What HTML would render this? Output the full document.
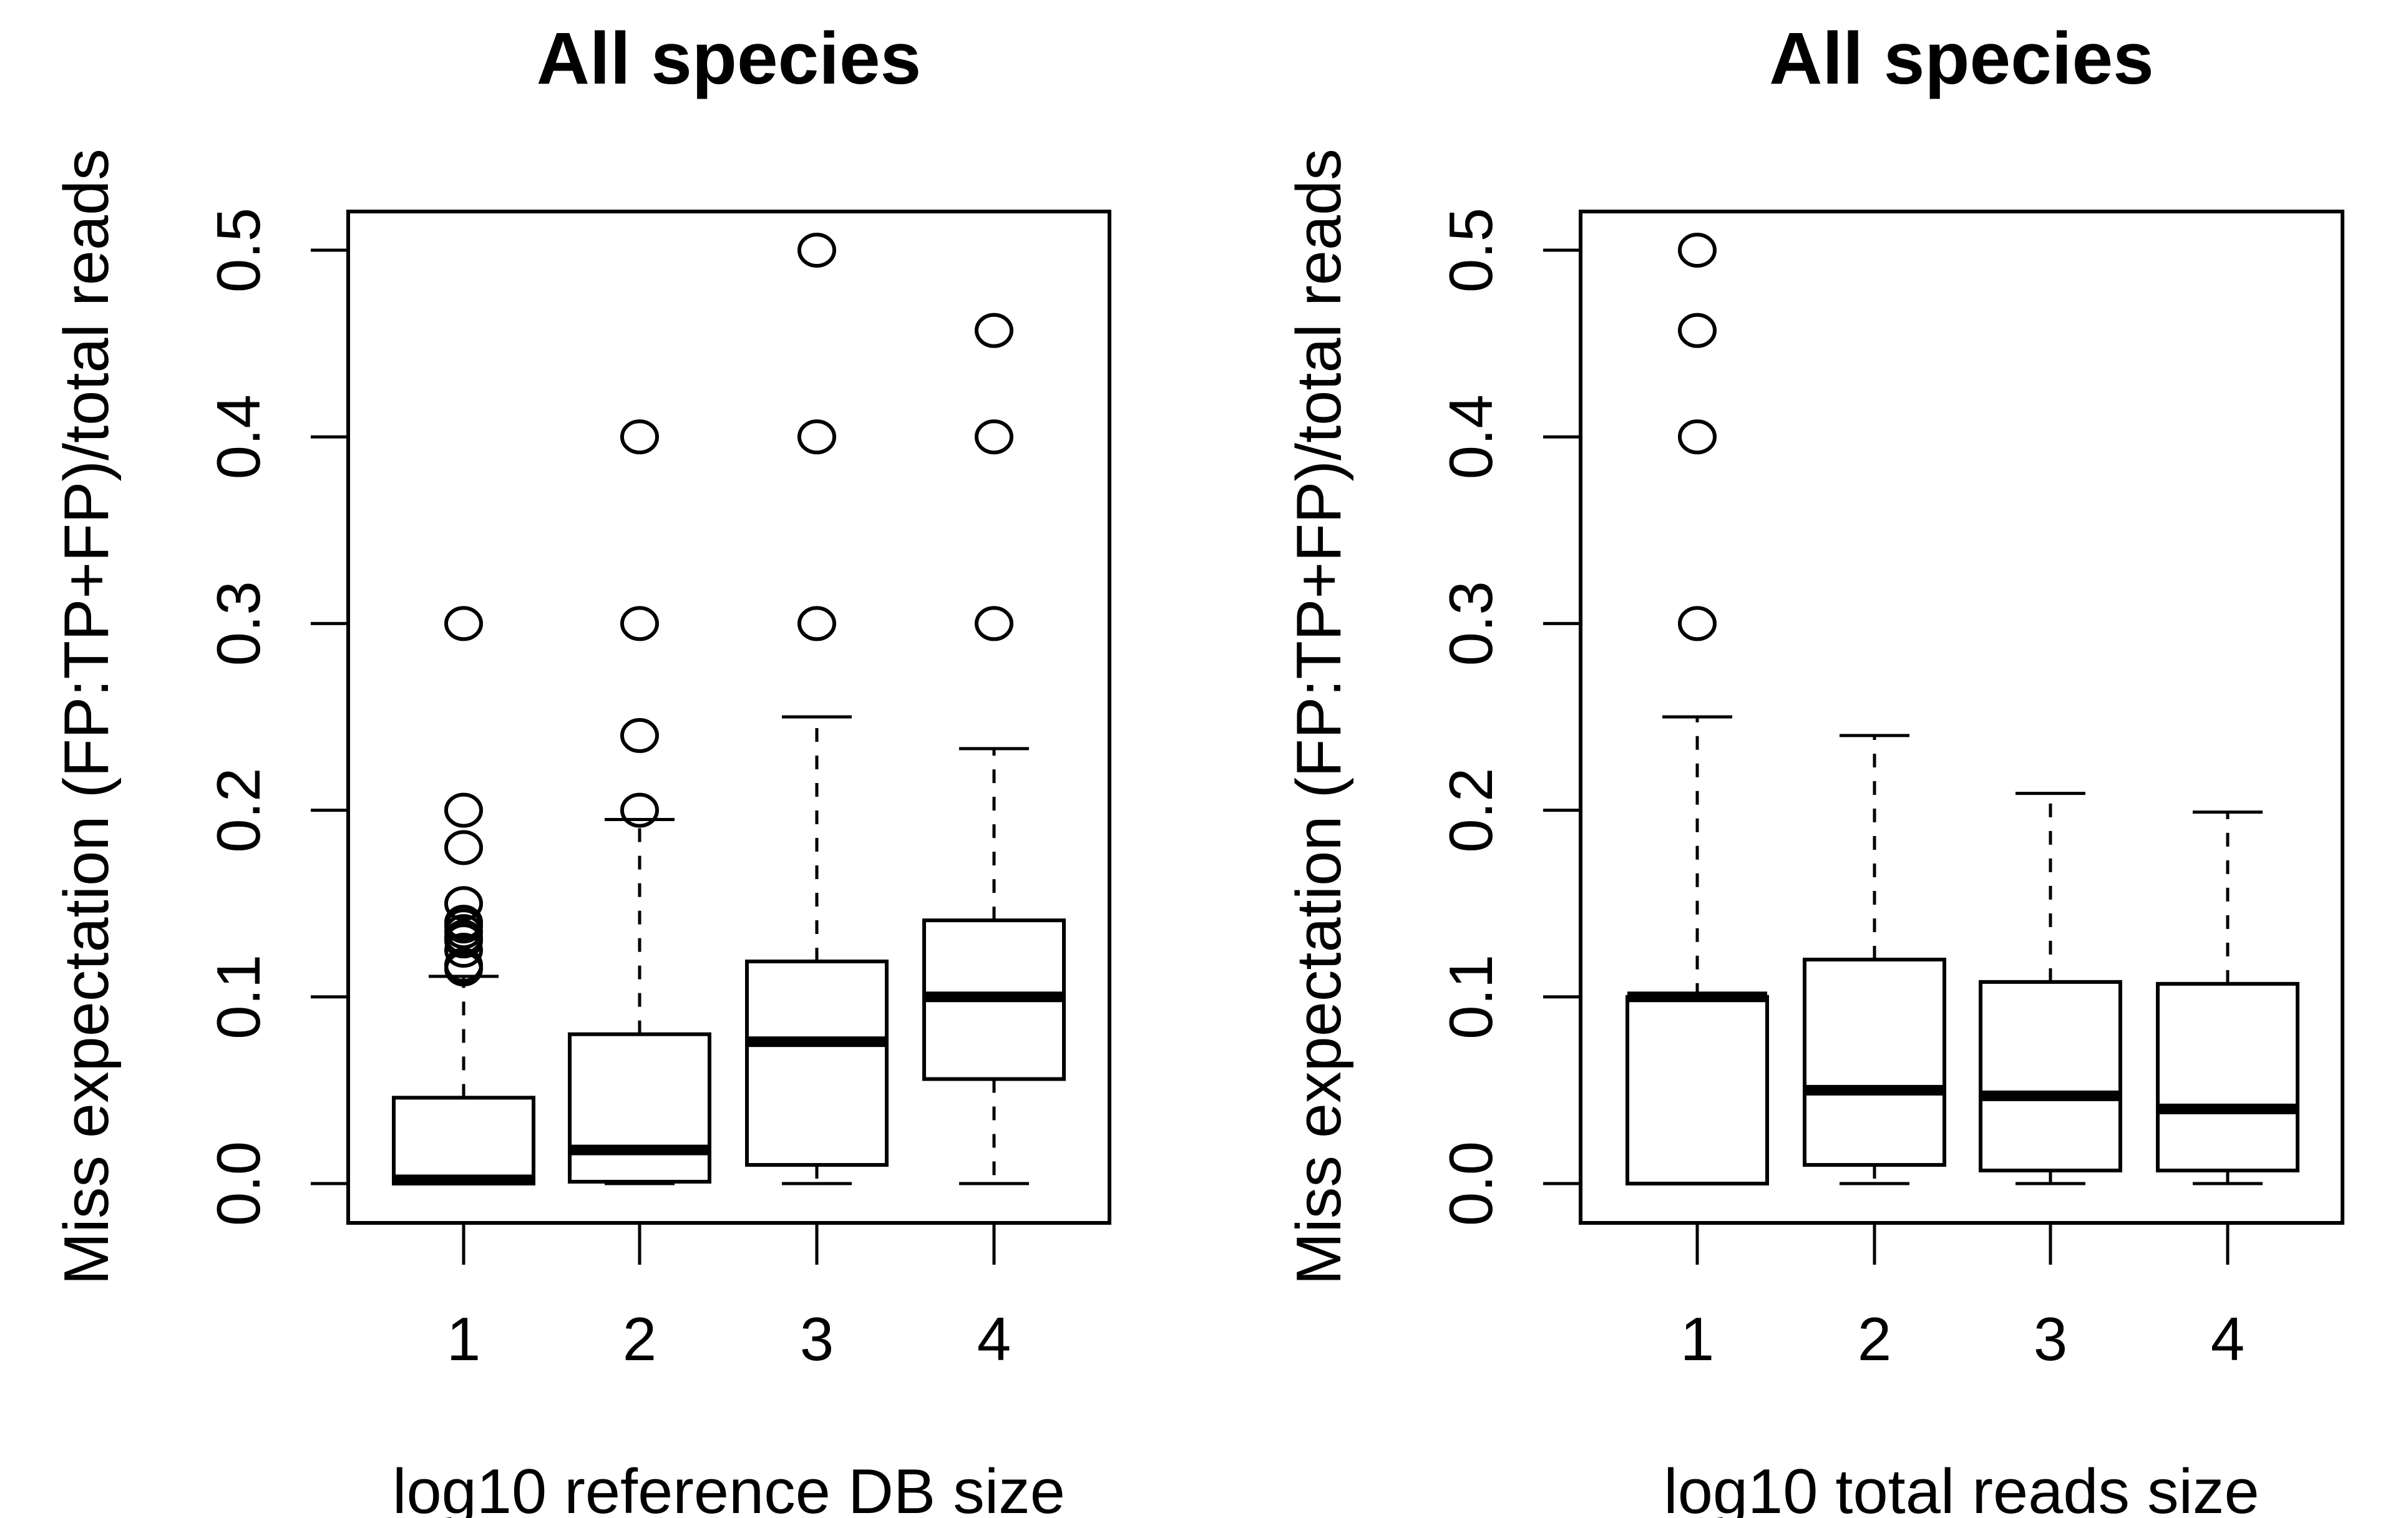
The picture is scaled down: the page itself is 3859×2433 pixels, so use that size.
<!DOCTYPE html>
<html><head><meta charset="utf-8"><style>
html,body{margin:0;padding:0;background:#fff}
svg{display:block;font-family:"Liberation Sans",Arial,sans-serif}
</style></head><body>
<svg id="chart" width="3859" height="2433" viewBox="0 0 3859 2433" xmlns="http://www.w3.org/2000/svg"></svg>
<script>
const categories = ["1","2","3","4"];
const yTicks = [0, 0.1, 0.2, 0.3, 0.4, 0.5];
const yTickLabels = ["0.0","0.1","0.2","0.3","0.4","0.5"];
// [lowWhisker, q1, median, q3, highWhisker]
const leftStats = [
  [0, 0, 0.002, 0.046, 0.111],
  [0, 0.001, 0.018, 0.080, 0.195],
  [0, 0.010, 0.076, 0.119, 0.250],
  [0, 0.056, 0.100, 0.141, 0.233]
];
const leftOutliers = [
  [0.3,0.2,0.18,0.15,0.14,0.138,0.135,0.132,0.13,0.125,0.117,0.115],
  [0.4,0.3,0.24,0.2],
  [0.5,0.4,0.3],
  [0.457,0.4,0.3]
];
const rightStats = [
  [0, 0, 0.100, 0.100, 0.250],
  [0, 0.010, 0.050, 0.120, 0.240],
  [0, 0.007, 0.047, 0.108, 0.209],
  [0, 0.007, 0.040, 0.107, 0.199]
];
const rightOutliers = [
  [0.5,0.457,0.4,0.3],
  [],[],[]
];

const svgRoot = document.getElementById('chart');
const NS = 'http://www.w3.org/2000/svg';
function mk(tag, attrs, parent){
  const e = document.createElementNS(NS, tag);
  for (const k in attrs) e.setAttribute(k, attrs[k]);
  (parent||svgRoot).appendChild(e);
  return e;
}
const plotTop=339, plotBottom=1960, y0px=1897, y5px=401;
function yScale(v){ return y0px + (y5px - y0px) * (v / 0.5); }

function panel(px0, px1, centers, stats, outliers, xlabel, prefix){
  const g = mk('g', {});
  
  
  const frame = mk('rect', {x:px0, y:plotTop, width:px1-px0, height:plotBottom-plotTop, fill:'none', stroke:'#000', 'stroke-width':6}, g);
  
  
  yTicks.forEach((t,i)=>{
    const y = yScale(t);
    const tk = mk('line', {x1:px0-60, x2:px0, y1:y, y2:y, stroke:'#000', 'stroke-width':5}, g);
    
    
    const lx = px0 - 142;
    const tx = mk('text', {x:lx, y:y, 'font-size':98, 'text-anchor':'middle', transform:`rotate(-90 ${lx} ${y})`}, g);
    tx.textContent = yTickLabels[i];
    
    
  });
  categories.forEach((c,i)=>{
    const x = centers[i];
    const tk = mk('line', {x1:x, x2:x, y1:plotBottom, y2:plotBottom+67, stroke:'#000', 'stroke-width':5}, g);
    
    
    const tx = mk('text', {x:x, y:2180, 'font-size':98, 'text-anchor':'middle'}, g);
    tx.textContent = c;
    
    
  });
  stats.forEach((s,i)=>{
    const x = centers[i], hw = 112, cw = 56;
    const bg = mk('g', {}, g);
    
    
    mk('line', {x1:x, x2:x, y1:yScale(s[3]), y2:yScale(s[4]), stroke:'#000', 'stroke-width':5, 'stroke-dasharray':'22 22'}, bg);
    mk('line', {x1:x, x2:x, y1:yScale(s[1]), y2:yScale(s[0]), stroke:'#000', 'stroke-width':5, 'stroke-dasharray':'22 22'}, bg);
    mk('line', {x1:x-cw, x2:x+cw, y1:yScale(s[4]), y2:yScale(s[4]), stroke:'#000', 'stroke-width':5}, bg);
    mk('line', {x1:x-cw, x2:x+cw, y1:yScale(s[0]), y2:yScale(s[0]), stroke:'#000', 'stroke-width':5}, bg);
    mk('rect', {x:x-hw, y:yScale(s[3]), width:2*hw, height:Math.max(0,yScale(s[1])-yScale(s[3])), fill:'#fff', stroke:'#000', 'stroke-width':6}, bg);
    const med = mk('line', {x1:x-hw, x2:x+hw, y1:yScale(s[2]), y2:yScale(s[2]), stroke:'#000', 'stroke-width':17}, bg);
    
    
    outliers[i].forEach(v=>{
      const c = mk('ellipse', {cx:x, cy:yScale(v), rx:28, ry:25, fill:'none', stroke:'#000', 'stroke-width':6}, bg);
      
      
    });
  });
  const mid = (px0+px1)/2;
  const title = mk('text', {x:mid, y:134, 'font-size':118, 'font-weight':'bold', 'text-anchor':'middle'}, g);
  title.textContent = 'All species';
  
  
  const xl = mk('text', {x:mid, y:2425, 'font-size':101, 'text-anchor':'middle'}, g);
  xl.textContent = xlabel;
  
  
  const ylx = px0 - 385, yly = 1149;
  const yl = mk('text', {x:ylx, y:yly, 'font-size':101, 'text-anchor':'middle', transform:`rotate(-90 ${ylx} ${yly})`}, g);
  yl.textContent = 'Miss expectation (FP:TP+FP)/total reads';
  
  
}
panel(558, 1778, [743,1025,1309,1593], leftStats, leftOutliers, 'log10 reference DB size', 'left');
panel(2533, 3754, [2720,3004,3286,3570], rightStats, rightOutliers, 'log10 total reads size', 'right');
</script>
</body></html>
